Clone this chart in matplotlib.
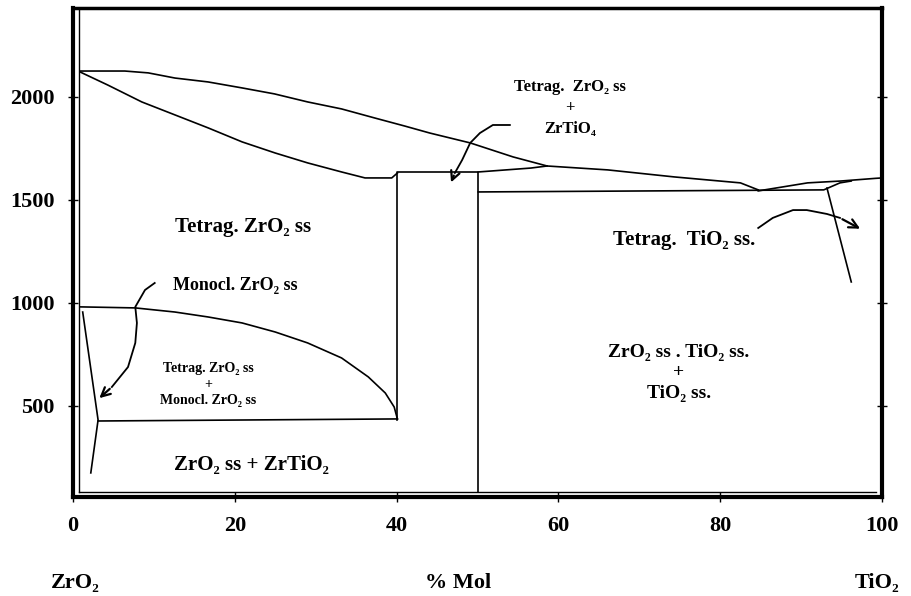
import matplotlib.pyplot as plt

# upper curve (liquidus), ZrO2 side to the lens near TiO2
liq_x = [0.9, 6.4, 9.3, 12.6, 16.7, 20.9, 24.9, 29.0, 33.2, 37.3, 41.0, 44.1, 49.1,
         54.4, 58.6, 66.1, 74.3, 82.5, 84.7]
liq_t = [2126, 2126, 2117, 2092, 2073, 2044, 2015, 1976, 1942, 1898, 1859, 1825, 1777,
         1709, 1665, 1646, 1612, 1583, 1549]

# lower curve from ZrO2 down to the ZrTiO4 box
sol_x = [0.9, 4.3, 8.5, 12.6, 16.7, 20.9, 25.0, 29.0, 33.2, 36.1, 39.4, 40.1]
sol_t = [2121, 2058, 1976, 1913, 1850, 1782, 1728, 1680, 1636, 1607, 1607, 1631]

# ZrTiO4 box
box_x = [40.1, 40.1, 50.1, 50.1]
box_t = [432, 1636, 1636, 83]
boxtop_x = [50.1, 56.6, 58.6]
boxtop_t = [1636, 1655, 1665]

# lens at the TiO2 end
lens_x = [84.7, 90.8, 94.9, 99.2, 100]
lens_t = [1544, 1583, 1592, 1605, 1607]
eut_x = [50.1, 92.8, 94.8, 96.2]
eut_t = [1539, 1549, 1583, 1592]
tio2_x = [93.2, 96.2]
tio2_t = [1558, 1102]

# monoclinic / tetragonal boundary
mono_x = [0.9, 7.7, 12.6, 16.7, 20.9, 25.0, 29.0, 33.2, 36.5, 38.6, 39.7, 40.1]
mono_t = [981, 976, 956, 932, 903, 859, 806, 733, 641, 563, 495, 437]
eud_x = [3.1, 40.1]
eud_t = [427, 437]
steep_x = [1.2, 3.1, 2.2]
steep_t = [956, 432, 175]

# arrows (tail ... head)
arr1_x = [10.1, 8.9, 7.7, 7.9, 7.7, 6.8, 4.8, 3.0]
arr1_t = [1097, 1063, 981, 903, 806, 689, 592, 529]
arr2_x = [54.0, 51.9, 50.3, 49.1, 48.1, 47.2, 46.6]
arr2_t = [1864, 1864, 1825, 1777, 1694, 1631, 1573]
arr3_x = [84.7, 86.5, 89.0, 90.7, 93.2, 94.8, 97.6]
arr3_t = [1364, 1413, 1451, 1451, 1432, 1413, 1354]

xticks = [0, 20, 40, 60, 80, 100]
yticks = [500, 1000, 1500, 2000]

plt.rcParams['font.family'] = ['Liberation Serif', 'DejaVu Serif']
plt.rcParams['font.weight'] = 'bold'

fig = plt.figure(figsize=(9.11, 5.96), dpi=100)
ax = fig.add_axes([73/911, 1 - 497/596, (882 - 73)/911, (497 - 8)/596])
ax.set_xlim(0, 100)
ax.set_ylim(58, 2432)

lw = 1.2
for xs, ts in [(liq_x, liq_t), (sol_x, sol_t), (box_x, box_t), (boxtop_x, boxtop_t),
               (lens_x, lens_t), (eut_x, eut_t), (tio2_x, tio2_t), (mono_x, mono_t),
               (eud_x, eud_t), (steep_x, steep_t)]:
    ax.plot(xs, ts, color='black', lw=lw, solid_joinstyle='round')

# inner frame lines
ax.plot([0.75, 0.75], [83, 2432], color='black', lw=1.0)
ax.plot([0.75, 99.2], [83, 83], color='black', lw=1.0)

for xs, ts in [(arr1_x, arr1_t), (arr2_x, arr2_t), (arr3_x, arr3_t)]:
    ax.plot(xs[:-1], ts[:-1], color='black', lw=1.3, solid_joinstyle='round')
    ax.annotate('', xy=(xs[-1], ts[-1]), xytext=(xs[-2], ts[-2]),
                arrowprops=dict(arrowstyle='->', color='black', lw=1.6, mutation_scale=16))

for side in ax.spines.values():
    side.set_linewidth(3)
ax.spines['top'].set_linewidth(2.5)

ax.set_xticks(xticks)
ax.set_yticks(yticks)
ax.tick_params(axis='both', direction='inout', length=7, width=1, labelsize=16, pad=10)
ax.tick_params(axis='y', right=True)

ax.text(21.0, 1369, 'Tetrag. ZrO₂ ss', fontsize=15, ha='center', va='center')
ax.text(20.1, 1087, 'Monocl. ZrO₂ ss', fontsize=13, ha='center', va='center')
ax.text(16.7, 602, 'Tetrag. ZrO₂ ss\n+\nMonocl. ZrO₂ ss', fontsize=10, ha='center',
        va='center', linespacing=1.3)
ax.text(22.0, 214, 'ZrO₂ ss + ZrTiO₂', fontsize=15, ha='center', va='center')
ax.text(61.4, 1947, 'Tetrag.  ZrO₂ ss\n+\nZrTiO₄', fontsize=12, ha='center',
        va='center', linespacing=1.4)
ax.text(75.6, 1306, 'Tetrag.  TiO₂ ss.', fontsize=15, ha='center', va='center')
ax.text(74.9, 660, 'ZrO₂ ss . TiO₂ ss.\n+\nTiO₂ ss.', fontsize=14, ha='center',
        va='center', linespacing=1.3)

fig.text(75/911, 1 - 583/596, 'ZrO₂', fontsize=16, ha='center', va='center')
fig.text(458/911, 1 - 583/596, '% Mol', fontsize=16, ha='center', va='center')
fig.text(877/911, 1 - 583/596, 'TiO₂', fontsize=16, ha='center', va='center')

fig.savefig('out.png', dpi=100)
